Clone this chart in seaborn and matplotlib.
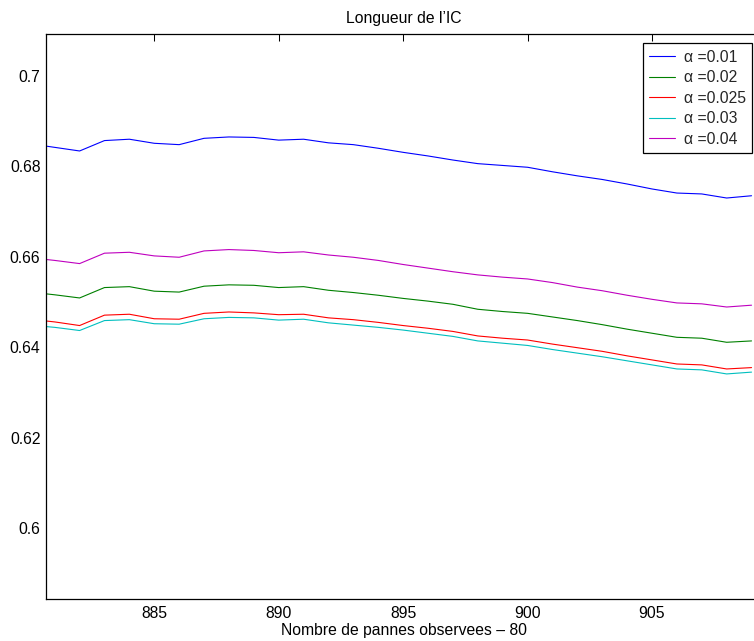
import numpy as np
import pandas as pd
import matplotlib
matplotlib.use("Agg")
import matplotlib.pyplot as plt
import seaborn as sns
from matplotlib.ticker import FuncFormatter

# ---------------- data ----------------
x_vals = list(range(880, 910))

alpha_001 = [0.6850, 0.6842, 0.6834, 0.6857, 0.6860, 0.6851, 0.6848, 0.6862, 0.6865, 0.6864,
             0.6858, 0.6860, 0.6852, 0.6848, 0.6840, 0.6831, 0.6823, 0.6814, 0.6806, 0.6802,
             0.6798, 0.6788, 0.6779, 0.6771, 0.6761, 0.6750, 0.6741, 0.6739, 0.6730, 0.6735]
alpha_002 = [0.6522, 0.6516, 0.6509, 0.6532, 0.6534, 0.6524, 0.6522, 0.6535, 0.6538, 0.6537,
             0.6532, 0.6534, 0.6526, 0.6521, 0.6515, 0.6508, 0.6502, 0.6495, 0.6484, 0.6479,
             0.6475, 0.6467, 0.6459, 0.6450, 0.6440, 0.6431, 0.6422, 0.6420, 0.6411, 0.6414]
alpha_0025 = [0.6462, 0.6456, 0.6448, 0.6471, 0.6473, 0.6463, 0.6462, 0.6475, 0.6478, 0.6476,
              0.6472, 0.6473, 0.6465, 0.6461, 0.6455, 0.6448, 0.6442, 0.6435, 0.6425, 0.6420,
              0.6416, 0.6407, 0.6399, 0.6391, 0.6381, 0.6372, 0.6363, 0.6361, 0.6352, 0.6355]
alpha_003 = [0.6449, 0.6444, 0.6437, 0.6459, 0.6461, 0.6452, 0.6451, 0.6463, 0.6466, 0.6465,
             0.6460, 0.6462, 0.6454, 0.6449, 0.6444, 0.6438, 0.6431, 0.6424, 0.6414, 0.6409,
             0.6404, 0.6395, 0.6387, 0.6379, 0.6370, 0.6361, 0.6352, 0.6350, 0.6341, 0.6345]
alpha_004 = [0.6598, 0.6592, 0.6585, 0.6608, 0.6610, 0.6602, 0.6599, 0.6613, 0.6616, 0.6614,
             0.6609, 0.6611, 0.6604, 0.6599, 0.6592, 0.6583, 0.6575, 0.6567, 0.6560, 0.6555,
             0.6551, 0.6543, 0.6533, 0.6525, 0.6515, 0.6506, 0.6498, 0.6496, 0.6489, 0.6493]

series_labels = ["\u03b1 =0.01", "\u03b1 =0.02", "\u03b1 =0.025", "\u03b1 =0.03", "\u03b1 =0.04"]
series_values = [alpha_001, alpha_002, alpha_0025, alpha_003, alpha_004]
series_colors = ["#0000ff", "#008000", "#ff0000", "#00bfbf", "#bf00bf"]

x_ticks = [885, 890, 895, 900, 905]
y_ticks = [0.60, 0.62, 0.64, 0.66, 0.68, 0.70]

title = "Longueur de l\u2019IC"
xlabel = "Nombre de pannes observees \u2013 80"

# ---------------- build frame ----------------
df = pd.concat(
    [pd.DataFrame({"x": x_vals, "y": vals, "label": lab})
     for lab, vals in zip(series_labels, series_values)],
    ignore_index=True,
)

sns.set_theme(style="white")
plt.rcParams["font.family"] = ["Liberation Sans", "DejaVu Sans"]

W, H = 754, 641
fig = plt.figure(figsize=(W / 100, H / 100), dpi=100)
ax = fig.add_axes([46 / W, 42.3 / H, 715.5 / W, 564.4 / H])

sns.lineplot(
    data=df, x="x", y="y", hue="label", hue_order=series_labels,
    palette=dict(zip(series_labels, series_colors)),
    linewidth=0.8, estimator=None, ax=ax,
)

ax.set_xlim(880.65, 909.4)
ax.set_ylim(0.5844, 0.7092)
ax.set_xticks(x_ticks)
ax.set_yticks(y_ticks)
ax.yaxis.set_major_formatter(FuncFormatter(lambda v, p: f"{v:g}"))

ax.tick_params(axis="both", direction="in", length=5, width=0.75, colors="black",
               top=True, right=True, labelsize=11.3)
ax.tick_params(axis="x", pad=5)
ax.tick_params(axis="y", pad=4)
for sp in ax.spines.values():
    sp.set_visible(True)
    sp.set_color("black")
    sp.set_linewidth(0.9)

ax.set_title(title, fontsize=11.3, pad=8, color="black")
ax.set_xlabel(xlabel, fontsize=11.3, labelpad=2, color="black")
ax.set_ylabel("")

handles, labels = ax.get_legend_handles_labels()
leg = ax.legend(
    handles, labels, loc="upper right",
    bbox_to_anchor=(752.3 / W, 1 - 43.3 / H), bbox_transform=fig.transFigure,
    borderaxespad=0, frameon=True, fancybox=False, framealpha=1,
    edgecolor="black", fontsize=11.3, handlelength=1.65, handletextpad=0.55,
    labelspacing=0.35, borderpad=0.42,
)
leg.get_frame().set_linewidth(0.9)
for line in leg.get_lines():
    line.set_linewidth(0.8)

fig.savefig("out.png", dpi=100)
